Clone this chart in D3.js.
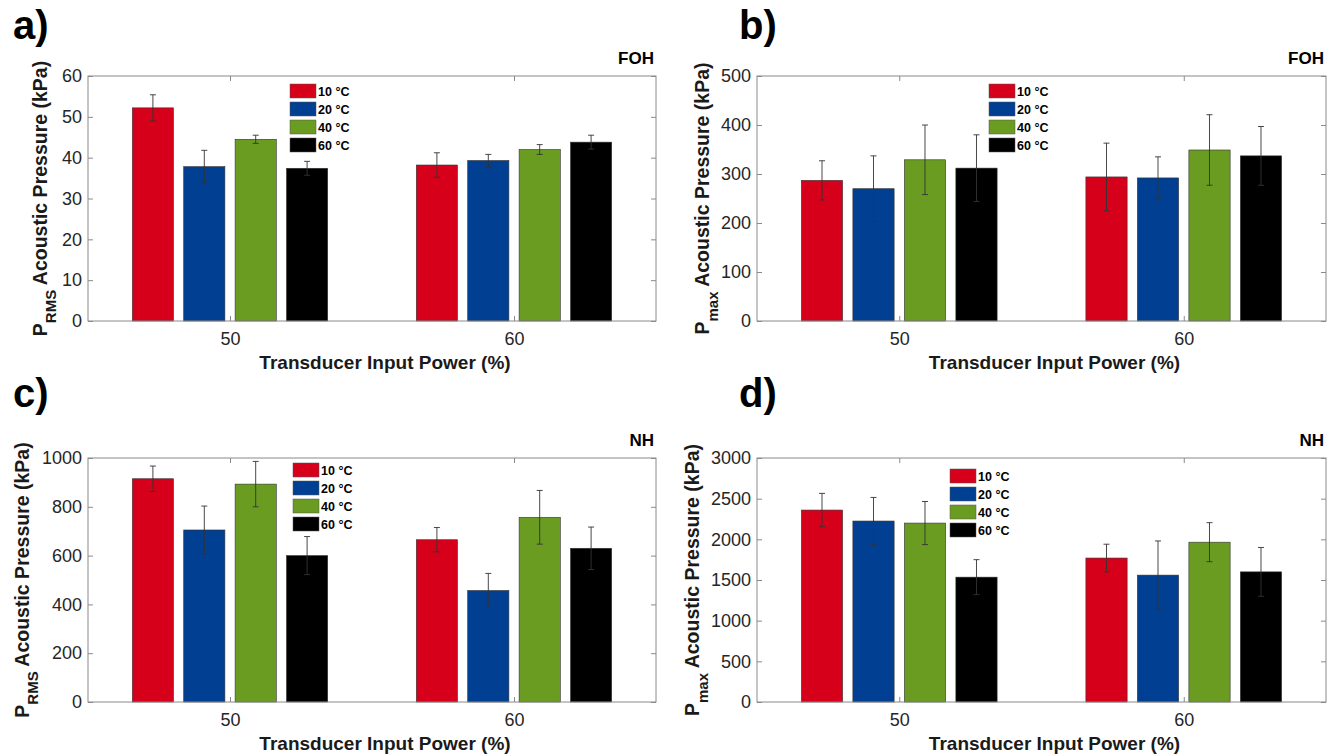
<!doctype html>
<html>
<head>
  <meta charset="utf-8">
  <title>Acoustic pressure bars</title>
  <script src="https://cdnjs.cloudflare.com/ajax/libs/d3/7.8.5/d3.min.js"></script>
  <style>
    body { margin: 0; background: #fff; }
    svg { font-family: "Liberation Sans", Arial, sans-serif; }
  </style>
</head>
<body>
  <div id="chart"></div>
  <script>
    // == data ==
    const powers = ["50", "60"];
    const temps = ["10 °C", "20 °C", "40 °C", "60 °C"];
    const colors = ["#d7001a", "#003f91", "#6b9c22", "#000000"];

    // mean values, one row per input power
    const rmsFOH = [[52.2, 37.8, 44.5, 37.4], [38.2, 39.3, 42.0, 43.8]];
    const rmsFOHerr = [[3.2, 4.0, 1.0, 1.7], [3.0, 1.5, 1.2, 1.7]];
    const maxFOH = [[287, 270, 329, 312], [294, 292, 349, 337]];
    const maxFOHerr = [[40, 67, 71, 68], [69, 43, 72, 60]];
    const rmsNH = [[915, 705, 893, 600], [665, 457, 757, 630]];
    const rmsNHerr = [[52, 98, 93, 78], [50, 70, 110, 87]];
    const maxNH = [[2360, 2225, 2200, 1535], [1770, 1560, 1965, 1600]];
    const maxNHerr = [[205, 290, 265, 215], [170, 420, 240, 300]];

    const yTicksA = [0, 10, 20, 30, 40, 50, 60];
    const yTicksB = [0, 100, 200, 300, 400, 500];
    const yTicksC = [0, 200, 400, 600, 800, 1000];
    const yTicksD = [0, 500, 1000, 1500, 2000, 2500, 3000];

    const svg = d3.select('#chart').append('svg')
      .attr('width', 1327).attr('height', 755);

    const panels = [
      { tag: 'a)', site: 'FOH', sub: 'RMS', vals: rmsFOH, errs: rmsFOHerr, ticks: yTicksA,
        x0: 88, x1: 656, y0: 76, y1: 321, legX: 290, legY: 84, tagX: 13, tagY: 39, ylX: 40 },
      { tag: 'b)', site: 'FOH', sub: 'max', vals: maxFOH, errs: maxFOHerr, ticks: yTicksB,
        x0: 757, x1: 1326, y0: 76, y1: 321, legX: 989, legY: 84, tagX: 739, tagY: 39, ylX: 702 },
      { tag: 'c)', site: 'NH', sub: 'RMS', vals: rmsNH, errs: rmsNHerr, ticks: yTicksC,
        x0: 88, x1: 656, y0: 458, y1: 702, legX: 293, legY: 463, tagX: 13, tagY: 407, ylX: 22 },
      { tag: 'd)', site: 'NH', sub: 'max', vals: maxNH, errs: maxNHerr, ticks: yTicksD,
        x0: 757, x1: 1326, y0: 458, y1: 702, legX: 950, legY: 469, tagX: 739, tagY: 407, ylX: 692 }
    ];

    panels.forEach(p => drawPanel(p));

    function drawPanel(p) {
      const g = svg.append('g');

      // MATLAB style: groups at 1 and 2, xlim [0.5, 2.5]
      const x = d3.scaleLinear().domain([0.5, 2.5]).range([p.x0, p.x1]);
      const y = d3.scaleLinear().domain([0, d3.max(p.ticks)]).range([p.y1, p.y0]);
      const spacing = 0.181, barW = 0.145;

      // bars
      const rows = [];
      p.vals.forEach((row, gi) => row.forEach((v, si) => {
        rows.push({ gi, si, v, e: p.errs[gi][si], cx: gi + 1 + (si - 1.5) * spacing });
      }));

      g.selectAll('rect.bar').data(rows).join('rect')
        .attr('class', 'bar')
        .attr('x', d => x(d.cx - barW / 2))
        .attr('width', x(barW) - x(0))
        .attr('y', d => y(d.v))
        .attr('height', d => y(0) - y(d.v))
        .attr('fill', d => colors[d.si])
        .attr('stroke', '#333')
        .attr('stroke-width', 0.6);

      // error bars
      const eb = g.selectAll('g.err').data(rows).join('g').attr('class', 'err')
        .attr('stroke', '#333').attr('stroke-width', 0.9);
      eb.append('line')
        .attr('x1', d => x(d.cx)).attr('x2', d => x(d.cx))
        .attr('y1', d => y(d.v + d.e)).attr('y2', d => y(d.v - d.e));
      eb.append('line')
        .attr('x1', d => x(d.cx) - 3).attr('x2', d => x(d.cx) + 3)
        .attr('y1', d => y(d.v + d.e)).attr('y2', d => y(d.v + d.e));
      eb.append('line')
        .attr('x1', d => x(d.cx) - 3).attr('x2', d => x(d.cx) + 3)
        .attr('y1', d => y(d.v - d.e)).attr('y2', d => y(d.v - d.e));

      // axes (ticks inside, box)
      const axisStyle = sel => {
        sel.select('.domain').remove();
        sel.selectAll('.tick line').attr('stroke', '#8a8a8a');
        sel.selectAll('.tick text').attr('fill', '#262626')
          .style('font-size', '18px').style('font-family', '"Liberation Sans", Arial, sans-serif');
      };
      g.append('g').attr('transform', `translate(${p.x0},0)`)
        .call(d3.axisLeft(y).tickValues(p.ticks).tickSize(-5).tickPadding(6).tickFormat(d3.format('d')))
        .call(axisStyle);
      g.append('g').attr('transform', `translate(${p.x1},0)`)
        .call(d3.axisRight(y).tickValues(p.ticks).tickSize(-5).tickFormat(''))
        .call(axisStyle);
      g.append('g').attr('transform', `translate(0,${p.y1})`)
        .call(d3.axisBottom(x).tickValues([1, 2]).tickSize(-5).tickPadding(11).tickFormat((d, i) => powers[i]))
        .call(axisStyle);
      g.append('g').attr('transform', `translate(0,${p.y0})`)
        .call(d3.axisTop(x).tickValues([1, 2]).tickSize(-5).tickFormat(''))
        .call(axisStyle);

      g.append('rect')
        .attr('x', p.x0).attr('y', p.y0)
        .attr('width', p.x1 - p.x0).attr('height', p.y1 - p.y0)
        .attr('fill', 'none').attr('stroke', '#8a8a8a').attr('stroke-width', 1);

      // labels
      g.append('text')
        .attr('x', p.tagX).attr('y', p.tagY)
        .style('font-size', '40px').style('font-weight', 'bold')
        .text(p.tag);

      g.append('text')
        .attr('x', p.x1 - 2).attr('y', p.y0 - 12)
        .attr('text-anchor', 'end')
        .style('font-size', '17px').style('font-weight', 'bold')
        .text(p.site);

      g.append('text')
        .attr('x', (p.x0 + p.x1) / 2 + 13).attr('y', p.y1 + 48)
        .attr('text-anchor', 'middle')
        .style('font-size', '19px').style('font-weight', 'bold').attr('fill', '#1a1a1a')
        .text('Transducer Input Power (%)');

      const yl = g.append('text')
        .attr('transform', `translate(${p.ylX + 7},${(p.y0 + p.y1) / 2}) rotate(-90)`)
        .attr('text-anchor', 'middle')
        .style('font-size', '19.5px').style('font-weight', 'bold').attr('fill', '#1a1a1a');
      yl.append('tspan').text('P');
      yl.append('tspan').attr('dy', 9).style('font-size', '15px').text(p.sub);
      yl.append('tspan').attr('dy', -9).text(' Acoustic Pressure (kPa)');

      // legend
      const leg = g.selectAll('g.leg').data(temps).join('g').attr('class', 'leg')
        .attr('transform', (d, i) => `translate(${p.legX},${p.legY + i * 18})`);
      leg.append('rect')
        .attr('width', 26).attr('height', 14)
        .attr('fill', (d, i) => colors[i])
        .attr('stroke', '#555').attr('stroke-width', 0.5);
      leg.append('text')
        .attr('x', 28).attr('y', 12)
        .style('font-size', '12.5px').style('font-weight', 'bold')
        .text(d => d);
    }
  </script>
</body>
</html>
